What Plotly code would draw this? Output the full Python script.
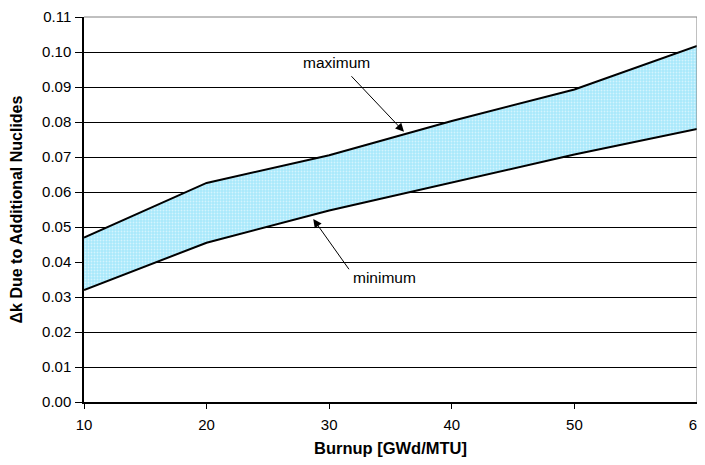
import plotly.graph_objects as go

burnup = [10, 20, 30, 40, 50, 60]
dk_min = [0.032, 0.0455, 0.0547, 0.0628, 0.0707, 0.078]
dk_max = [0.047, 0.0626, 0.0705, 0.0803, 0.0893, 0.1017]
y_ticks = [0.00, 0.01, 0.02, 0.03, 0.04, 0.05, 0.06, 0.07, 0.08, 0.09, 0.10, 0.11]
x_ticks = [10, 20, 30, 40, 50, 60]

# annotation positions (data coordinates)
max_label = dict(text="maximum", x=30.6, y=0.097)
max_arrow = dict(x=36.1, y=0.0772, ax=31.7, ay=0.0935)
min_label = dict(text="minimum", x=34.5, y=0.0356)
min_arrow = dict(x=28.7, y=0.0523, ax=31.7, ay=0.0375)

FONT = "Liberation Sans, Arial, sans-serif"

fig = go.Figure()
fig.add_trace(go.Scatter(x=burnup, y=dk_min, mode="lines",
                         line=dict(color="black", width=2), showlegend=False))
fig.add_trace(go.Scatter(x=burnup, y=dk_max, mode="lines", fill="tonexty",
                         fillcolor="#bfeefb",
                         fillpattern=dict(shape=".", bgcolor="#a8e8fb", fgcolor="#ffffff",
                                          size=3, solidity=0.3),
                         line=dict(color="black", width=2), showlegend=False))

for lab in (max_label, min_label):
    fig.add_annotation(x=lab["x"], y=lab["y"], text=lab["text"], showarrow=False,
                       font=dict(family=FONT, size=15.5, color="black"))
for ar in (max_arrow, min_arrow):
    fig.add_annotation(x=ar["x"], y=ar["y"], ax=ar["ax"], ay=ar["ay"],
                       axref="x", ayref="y", xref="x", yref="y", text="",
                       showarrow=True, arrowhead=2, arrowsize=1.7, arrowwidth=1,
                       arrowcolor="black")

# grey top / right border
fig.add_shape(type="line", xref="paper", yref="paper", x0=0, x1=1, y0=1, y1=1,
              line=dict(color="#808080", width=1))
fig.add_shape(type="line", xref="paper", yref="paper", x0=1, x1=1, y0=0, y1=1,
              line=dict(color="#808080", width=1))

fig.update_layout(
    width=697, height=449,
    margin=dict(l=76, r=8, t=9, b=55, autoexpand=False),
    paper_bgcolor="white", plot_bgcolor="white",
    font=dict(family=FONT, size=15, color="black"),
    xaxis=dict(range=[10, 60], tickvals=x_ticks, ticktext=[str(v) for v in x_ticks],
               showgrid=False, zeroline=False, showline=True, linecolor="black",
               linewidth=1.5, ticks="outside", ticklen=5, tickcolor="black",
               ticklabelstandoff=3, automargin=False, ticklabeloverflow="allow",
               title=dict(text="<b>Burnup [GWd/MTU]</b>", font=dict(size=16.5), standoff=11)),
    yaxis=dict(range=[0, 0.11], tickvals=y_ticks, ticktext=[f"{v:.2f}" for v in y_ticks],
               showgrid=True, gridcolor="black", gridwidth=1, zeroline=False,
               showline=True, linecolor="black", linewidth=1.5, ticks="outside",
               ticklen=7, tickcolor="black", automargin=False, ticklabeloverflow="allow",
               ticklabelstandoff=1,
               title=dict(text="<b>\u0394k Due to Additional Nuclides</b>", font=dict(size=16),
                          standoff=18)),
)

fig.write_html("out.html")
